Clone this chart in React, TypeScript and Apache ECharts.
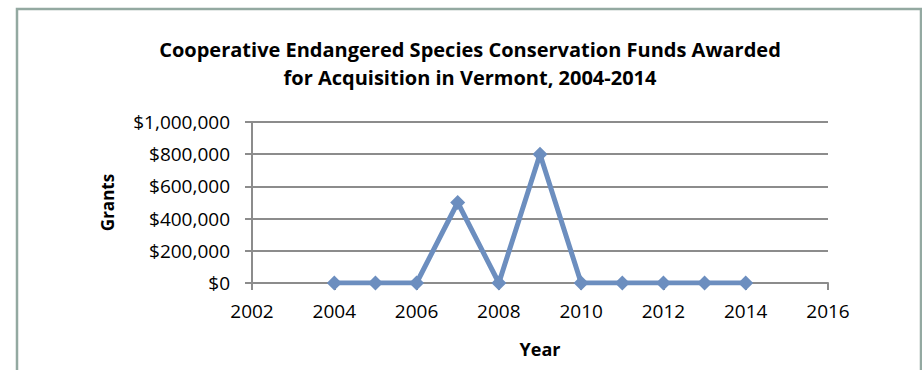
import React, { useEffect, useRef } from "react";
import * as echarts from "echarts";

const years = [2004, 2005, 2006, 2007, 2008, 2009, 2010, 2011, 2012, 2013, 2014];
const grants = [0, 0, 0, 500000, 0, 800000, 0, 0, 0, 0, 0];
const titleText = "Cooperative Endangered Species Conservation Funds Awarded\nfor Acquisition in Vermont, 2004-2014";

const fmt = (v: number) => "$" + v.toLocaleString("en-US");

export default function App() {
  const ref = useRef<HTMLDivElement>(null);
  useEffect(() => {
    const chart = echarts.init(ref.current!, null, { renderer: "svg" });
    const font = "'Open Sans', 'Noto Sans', sans-serif";
    chart.setOption({
      animation: false,
      backgroundColor: "#ffffff",
      textStyle: { fontFamily: font },
      title: {
        text: titleText,
        left: 465,
        top: 30,
        textAlign: "center",
        textStyle: { fontFamily: font, fontSize: 20, fontWeight: "bold", color: "#000", lineHeight: 28 },
      },
      graphic: [
        {
          type: "rect",
          shape: { x: 17, y: 9, width: 904, height: 380 },
          style: { fill: "none", stroke: "#93A9A1", lineWidth: 2.5 },
          silent: true,
        },
      ],
      grid: { left: 252, right: 94, top: 122, bottom: 87 },
      xAxis: {
        type: "value",
        min: 2002,
        max: 2016,
        interval: 2,
        name: "Year",
        nameLocation: "middle",
        nameGap: 57,
        nameTextStyle: { fontFamily: font, fontSize: 18, fontWeight: "bold", color: "#000" },
        axisLine: { show: true, lineStyle: { color: "#8C8C8C", width: 2 } },
        axisTick: { show: true, length: 7, lineStyle: { color: "#8C8C8C", width: 2 } },
        splitLine: { show: false },
        axisLabel: { fontFamily: font, fontSize: 19, color: "#000", margin: 18, formatter: (v: number) => String(v) },
      },
      yAxis: {
        type: "value",
        min: 0,
        max: 1000000,
        interval: 200000,
        name: "Grants",
        nameLocation: "middle",
        nameGap: 136,
        nameRotate: 90,
        nameTextStyle: { fontFamily: font, fontSize: 17, fontWeight: "bold", color: "#000" },
        axisLine: { show: true, lineStyle: { color: "#8C8C8C", width: 2 } },
        axisTick: { show: true, length: 7, lineStyle: { color: "#8C8C8C", width: 2 } },
        splitLine: { show: true, lineStyle: { color: "#8C8C8C", width: 2 } },
        axisLabel: { fontFamily: font, fontSize: 19, color: "#000", margin: 22, formatter: fmt },
      },
      series: [
        {
          type: "line",
          data: years.map((y, i) => [y, grants[i]]),
          symbol: "diamond",
          symbolSize: 15,
          lineStyle: { color: "#6C8EBF", width: 5 },
          itemStyle: { color: "#6C8EBF" },
        },
      ],
    });
    return () => chart.dispose();
  }, []);
  return (
    <div
      ref={ref}
      style={{ position: "fixed", left: 0, top: 0, width: 922, height: 370 }}
    />
  );
}
